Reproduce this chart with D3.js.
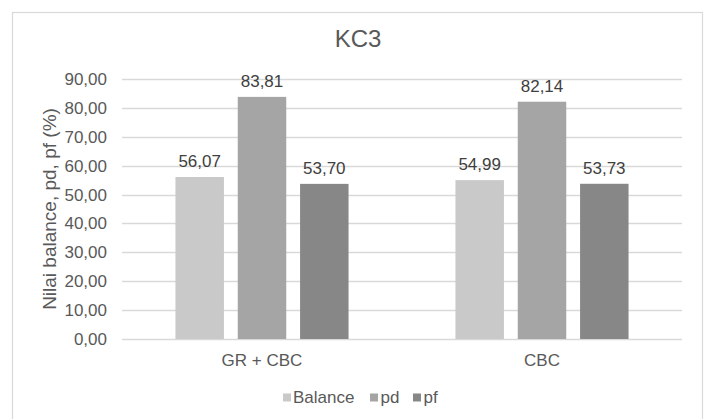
<!DOCTYPE html>
<html>
<head>
<meta charset="utf-8">
<script src="https://cdn.jsdelivr.net/npm/d3@7"></script>
<style>
  html, body { margin: 0; padding: 0; background: #fff; }
  svg { display: block; font-family: "Liberation Sans", Arial, sans-serif; }
</style>
</head>
<body>
<svg id="chart" width="705" height="419"></svg>
<script>
// Data
const categories = ["GR + CBC", "CBC"];
const seriesNames = ["Balance", "pd", "pf"];
const balanceValues = [56.07, 54.99];
const pdValues = [83.81, 82.14];
const pfValues = [53.70, 53.73];
const yTicks = [0, 10, 20, 30, 40, 50, 60, 70, 80, 90];
const seriesColors = ["#c9c9c9", "#a5a5a5", "#878787"];

const seriesValues = [balanceValues, pdValues, pfValues];
const fmt = v => v.toFixed(2).replace(".", ",");

const svg = d3.select("#chart");
const textColor = "#595959";
const gridColor = "#d9d9d9";

// Chart frame
svg.append("rect")
  .attr("x", 12.5).attr("y", 12.5)
  .attr("width", 690).attr("height", 420)
  .attr("fill", "#fff").attr("stroke", gridColor).attr("stroke-width", 1.2);

const plot = { left: 122, right: 682, top: 79, bottom: 339 };

const y = d3.scaleLinear().domain([0, 90]).range([plot.bottom, plot.top]);
const x0 = d3.scaleBand().domain(categories).range([plot.left, plot.right]).paddingInner(0).paddingOuter(0);
// Bars within a category: ~48.5px wide with ~14px gaps
const x1 = d3.scaleBand().domain(seriesNames)
  .range([0, x0.bandwidth()])
  .paddingInner(0.222).paddingOuter(0.858);

// Gridlines
svg.append("g").selectAll("line").data(yTicks).join("line")
  .attr("x1", plot.left).attr("x2", plot.right)
  .attr("y1", d => Math.round(y(d)) + 0.5).attr("y2", d => Math.round(y(d)) + 0.5)
  .attr("stroke", gridColor).attr("stroke-width", 1.3);

// Y tick labels
svg.append("g").selectAll("text").data(yTicks).join("text")
  .attr("x", 107).attr("y", d => y(d))
  .attr("dy", "0.35em")
  .attr("text-anchor", "end")
  .attr("fill", textColor)
  .attr("font-size", 17)
  .text(d => fmt(d));

// Bars with value labels
const groups = svg.append("g").selectAll("g").data(categories).join("g")
  .attr("transform", d => `translate(${x0(d)},0)`);

groups.each(function(cat, ci) {
  const g = d3.select(this);
  seriesNames.forEach((s, si) => {
    const v = seriesValues[si][ci];
    g.append("rect")
      .attr("x", x1(s)).attr("width", x1.bandwidth())
      .attr("y", y(v)).attr("height", y(0) - y(v))
      .attr("fill", seriesColors[si]);
    g.append("text")
      .attr("x", x1(s) + x1.bandwidth() / 2)
      .attr("y", y(v) - 10)
      .attr("text-anchor", "middle")
      .attr("fill", "#404040")
      .attr("font-size", 17)
      .text(fmt(v));
  });
});

// Category labels
svg.append("g").selectAll("text").data(categories).join("text")
  .attr("x", d => x0(d) + x0.bandwidth() / 2)
  .attr("y", 365.5)
  .attr("text-anchor", "middle")
  .attr("fill", textColor)
  .attr("font-size", 17)
  .text(d => d);

// Title
svg.append("text")
  .attr("x", 358).attr("y", 47.3)
  .attr("text-anchor", "middle")
  .attr("fill", textColor)
  .attr("font-size", 24)
  .text("KC3");

// Y axis title
svg.append("text")
  .attr("transform", `translate(56,${(plot.top + plot.bottom) / 2}) rotate(-90)`)
  .attr("text-anchor", "middle")
  .attr("fill", textColor)
  .attr("font-size", 19)
  .text("Nilai balance, pd, pf (%)");

// Legend
const legendItems = [
  { name: "Balance", sq: 283, tx: 293 },
  { name: "pd", sq: 370, tx: 380.5 },
  { name: "pf", sq: 413, tx: 423.5 }
];
const lg = svg.append("g");
legendItems.forEach((it, i) => {
  lg.append("rect")
    .attr("x", it.sq).attr("y", 393.5)
    .attr("width", 8).attr("height", 8)
    .attr("fill", seriesColors[i]);
  lg.append("text")
    .attr("x", it.tx).attr("y", 403.3)
    .attr("fill", textColor)
    .attr("font-size", 17)
    .text(it.name);
});
</script>
</body>
</html>
